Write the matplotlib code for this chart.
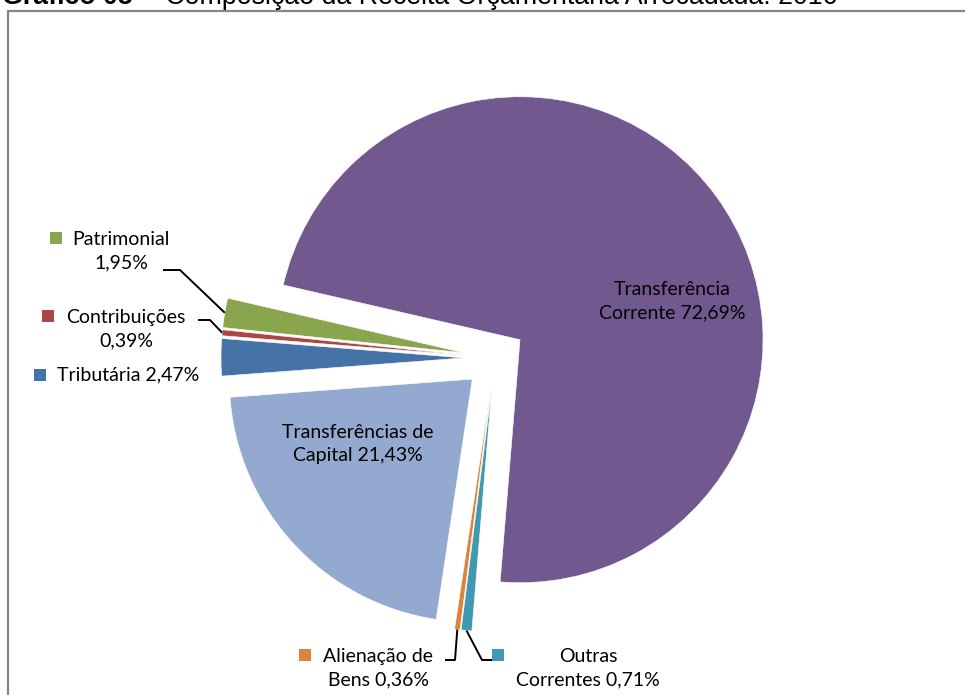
import numpy as np
import matplotlib
matplotlib.use('Agg')
import matplotlib.pyplot as plt
from matplotlib.patches import Rectangle

# data (Excel series order, clockwise)
categories = ['Tributária', 'Contribuições', 'Patrimonial', 'Transferência\nCorrente',
              'Outras\nCorrentes', 'Alienação de\nBens', 'Transferências de\nCapital']
values = [2.47, 0.39, 1.95, 72.69, 0.71, 0.36, 21.43]
colors = ['#4572A7', '#AA4643', '#89A54E', '#71588F', '#4198AF', '#DB843D', '#93A9CF']
label_sep = [' ', '\n', '\n', ' ', ' ', ' ', ' ']

title_bold = 'Gráfico 05'
title_rest = '– Composição da Receita Orçamentária Arrecadada: 2016'

W, H = 965, 695

# layout, in pixels from the top-left corner
label_pos = [(128, 375), (126, 329), (121, 251), (672, 301), (588, 668), (378, 668), (358, 444)]
key_pos = [(40, 375), (48, 316), (56, 238), None, (498, 655), (305, 655), None]
leader = [None, [(198, 320), (210, 320)], [(163, 270), (180, 270)], None,
          [(492, 660), (482, 660)], [(445, 660), (455, 660)], None]


def py(y):
    return H - y


fig = plt.figure(figsize=(W / 100, H / 100), dpi=100)
ax = fig.add_axes([0, 0, 1, 1])

wedges, _ = ax.pie(values, colors=colors, startangle=184.3, counterclock=False,
                   radius=243, center=(495, py(358)), explode=[31] * len(values),
                   wedgeprops=dict(edgecolor='white', linewidth=0.4), frame=False)
ax.set_xlim(0, W)
ax.set_ylim(0, H)
ax.set_aspect('equal')
ax.axis('off')

font = ['Lato', 'DejaVu Sans']
for i, w in enumerate(wedges):
    pct = ('%.2f%%' % values[i]).replace('.', ',')
    txt = categories[i] + label_sep[i] + pct
    txt = txt.replace('\n ', '\n')
    lx, ly = label_pos[i]
    ax.text(lx, py(ly), txt, ha='center', va='center', multialignment='center',
            fontsize=14, family=font, color='black', linespacing=1.45)
    if key_pos[i] is not None:
        kx, ky = key_pos[i]
        ax.add_patch(Rectangle((kx - 6, py(ky) - 6), 12, 12, facecolor=colors[i],
                               edgecolor='none'))
    if leader[i] is not None:
        th = np.radians((w.theta1 + w.theta2) / 2)
        ex = w.center[0] + w.r * np.cos(th)
        ey = w.center[1] + w.r * np.sin(th)
        xs = [p[0] for p in leader[i]] + [ex]
        ys = [py(p[1]) for p in leader[i]] + [ey]
        ax.plot(xs, ys, color='black', lw=1.4, solid_capstyle='butt')

# chart frame, cut off on the right and bottom
fig.add_artist(Rectangle((8 / W, -0.1), 2, 1 - 11 / H + 0.1, transform=fig.transFigure,
                         fill=False, edgecolor='#868686', lw=1.6))

# title, cut off at the top
fig.text(2 / W, 1 - 4 / H, title_bold, fontsize=19.3, fontweight='bold',
         family='Liberation Sans', va='baseline', ha='left')
fig.text(143 / W, 1 - 4 / H, title_rest, fontsize=19.3,
         family='Liberation Sans', va='baseline', ha='left')

fig.savefig('out.png', dpi=100, facecolor='white')
